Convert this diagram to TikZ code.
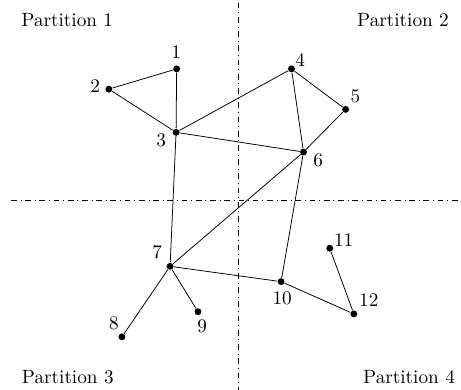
\documentclass[tikz,border=0pt]{standalone}
\begin{document}
\begin{tikzpicture}[dot/.style={circle,fill,inner sep=0pt,minimum size=3.6pt}]
    \useasboundingbox (0,0) rectangle (8.43,7.13);
    % partition borders
    \coordinate (vtop) at (4.35,7.08);
    \coordinate (vbot) at (4.35,0);
    \coordinate (hleft) at (0.2,3.47);
    \coordinate (hright) at (8.43,3.47);
    \draw[dash dot] (vtop) -- (vbot);
    \draw[dash dot] (hleft) -- (hright);
    \node (p1) at (1.23,6.77) {Partition 1};
    \node (p2) at (7.37,6.77) {Partition 2};
    \node (p3) at (1.24,0.24) {Partition 3};
    \node (p4) at (7.48,0.24) {Partition 4};
    % vertices: name/x/y/label angle/label distance
    \foreach \n/\x/\y/\a/\d in {1/3.23/5.87/92/6.5, 2/1.99/5.50/169/5.2, 3/3.22/4.71/208/6.8,
        4/5.33/5.87/47/4.6, 5/6.32/5.13/54/6.7, 6/5.55/4.35/-30/6.8,
        7/3.11/2.26/133/7.9, 8/2.23/0.97/121/6.1, 9/3.62/1.43/-74/5.9,
        10/5.14/1.98/-86/6.5, 11/6.03/2.59/29/6.3, 12/6.47/1.39/42/8.5}{
        \node[dot,label={[anchor=center,label distance=\d pt]\a:\n}] (v\n) at (\x,\y) {};
    }
    % edges
    \foreach \a/\b in {1/2, 1/3, 2/3, 3/4, 3/6, 4/5, 4/6, 5/6, 3/7, 6/7, 6/10, 7/10, 7/8, 7/9, 10/12, 11/12}{
        \draw (v\a) -- (v\b);
    }
\end{tikzpicture}
\end{document}
